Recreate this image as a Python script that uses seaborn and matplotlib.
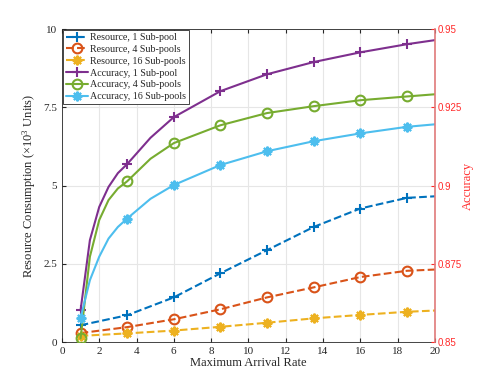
import matplotlib
matplotlib.use('Agg')
import matplotlib.pyplot as plt
import seaborn as sns
import numpy as np

sns.set_style('ticks')
plt.rcParams['font.family'] = ['Liberation Serif', 'DejaVu Serif']
plt.rcParams['mathtext.fontset'] = 'custom'
plt.rcParams['mathtext.rm'] = 'Liberation Serif'
plt.rcParams['mathtext.it'] = 'Liberation Serif:italic'

# ── data ──────────────────────────────────────────────────
x_res = [1, 3.5, 6, 8.5, 11, 13.5, 16, 18.5, 20]
res_1 = [0.54, 0.86, 1.43, 2.2, 2.94, 3.68, 4.27, 4.61, 4.66]
res_4 = [0.29, 0.48, 0.73, 1.05, 1.43, 1.75, 2.08, 2.28, 2.32]
res_16 = [0.2, 0.28, 0.37, 0.49, 0.62, 0.76, 0.87, 0.97, 1.01]

x_acc = [1, 1.5, 2, 2.5, 3, 3.5, 4.75, 6, 8.5, 11, 13.5, 16, 18.5, 20]
acc_1 = [0.8602, 0.8826, 0.8932, 0.8996, 0.904, 0.9069, 0.9153, 0.9219, 0.9302, 0.9356, 0.9395, 0.9426, 0.9452, 0.9465]
acc_4 = [0.8512, 0.8773, 0.889, 0.8954, 0.8991, 0.9014, 0.9086, 0.9136, 0.9193, 0.9232, 0.9254, 0.9273, 0.9285, 0.9292]
acc_16 = [0.8577, 0.8698, 0.8773, 0.8831, 0.8868, 0.8895, 0.8958, 0.9002, 0.9066, 0.911, 0.9142, 0.9167, 0.9188, 0.9196]

res_mark = list(range(8))
acc_mark = [0, 5, 7, 8, 9, 10, 11, 12]

C = ['#0072BD', '#D95319', '#EDB120', '#7E2F8E', '#77AC30', '#4DBEEE']
RED = '#ff2a2a'
ast = (8, 2, 0)

fig = plt.figure(figsize=(4.8, 3.84), dpi=100)
ax = fig.add_axes([0.129, 0.109, 0.777, 0.815])
ax2 = ax.twinx()

def line(axx, x, y, c, ls, m, lab, marks):
    mfc = 'none' if m == 'o' else c
    sns.lineplot(x=x, y=y, ax=axx, color=c, ls=ls, marker=m, mfc=mfc, mec=c, mew=1.5,
                 ms=7, lw=1.5, markevery=marks, label=lab, dashes=False if ls == '-' else (4, 3))

line(ax, x_res, res_1, C[0], '--', '+', 'Resource, 1 Sub-pool', res_mark)
line(ax, x_res, res_4, C[1], '--', 'o', 'Resource, 4 Sub-pools', res_mark)
line(ax, x_res, res_16, C[2], '--', ast, 'Resource, 16 Sub-pools', res_mark)
line(ax2, x_acc, acc_1, C[3], '-', '+', 'Accuracy, 1 Sub-pool', acc_mark)
line(ax2, x_acc, acc_4, C[4], '-', 'o', 'Accuracy, 4 Sub-pools', acc_mark)
line(ax2, x_acc, acc_16, C[5], '-', ast, 'Accuracy, 16 Sub-pools', acc_mark)

ax.set_xlim(0, 20); ax.set_ylim(0, 10)
ax.set_xticks(range(0, 21, 2))
ax.set_yticks([0, 2.5, 5, 7.5, 10]); ax.set_yticklabels(['0', '2.5', '5', '7.5', '10'])
ax2.set_ylim(0.85, 0.95)
ax2.set_yticks([0.85, 0.875, 0.9, 0.925, 0.95])
ax2.set_yticklabels(['0.85', '0.875', '0.9', '0.925', '0.95'], family=['Liberation Sans', 'DejaVu Sans'])
ax.grid(True, color='#e6e6e6', lw=0.8)
ax.set_axisbelow(True)

ax.set_xlabel('Maximum Arrival Rate', fontsize=9, color='#262626', labelpad=1)
ax.set_ylabel('Resource Consumption ($\\times10^3$ Units)', fontsize=9, color='#262626', labelpad=4)
ax2.set_ylabel('Accuracy', fontsize=9, color=RED, labelpad=0)

ax.tick_params(direction='in', labelsize=8, colors='#262626', length=3, top=True)
ax2.tick_params(direction='in', labelsize=7, colors=RED, length=3, pad=2)
for s in ['left', 'bottom', 'top']:
    ax.spines[s].set_color('#262626'); ax.spines[s].set_linewidth(0.6)
    ax2.spines[s].set_visible(False)
ax.spines['right'].set_visible(False)
ax2.spines['right'].set_color('#e07a7a'); ax2.spines['right'].set_linewidth(1.2)

ax.get_legend().remove()
h1, l1 = ax.get_legend_handles_labels()
h2, l2 = ax2.get_legend_handles_labels()
leg = ax2.legend(h1 + h2, l1 + l2, loc='upper left', fontsize=7.2, frameon=True, fancybox=False,
                 edgecolor='#262626', framealpha=1, borderpad=0.3, labelspacing=0.28,
                 handlelength=2.2, handletextpad=0.2, borderaxespad=0.1)
leg.get_frame().set_linewidth(0.6)

fig.savefig('out.png', dpi=100)
